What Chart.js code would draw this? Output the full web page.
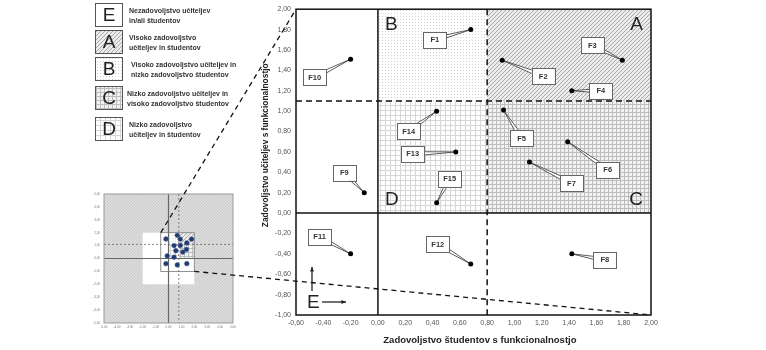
<!doctype html>
<html lang="sl">
<head>
<meta charset="utf-8">
<title>Zadovoljstvo učiteljev in študentov s funkcionalnostjo</title>
<style>
  body { margin: 0; background: #fff; }
  .wrap { position: relative; width: 766px; height: 350px; }
  .wrap canvas { position: absolute; left: 0; top: 0; }
</style>
</head>
<body>
<div class="wrap">
  <canvas id="overview" width="766" height="350"></canvas>
  <canvas id="detail" width="766" height="350"></canvas>
</div>

<script src="https://cdn.jsdelivr.net/npm/chart.js"></script>
<script>
// funkcionalnosti in povprecno zadovoljstvo
const factors = ['F1', 'F2', 'F3', 'F4', 'F5', 'F6', 'F7', 'F8', 'F9', 'F10', 'F11', 'F12', 'F13', 'F14', 'F15'];
const studentSat = [0.68, 0.91, 1.79, 1.42, 0.92, 1.39, 1.11, 1.42, -0.10, -0.20, -0.20, 0.68, 0.57, 0.43, 0.43];
const teacherSat = [1.80, 1.50, 1.50, 1.20, 1.01, 0.70, 0.50, -0.40, 0.20, 1.51, -0.40, -0.50, 0.60, 1.00, 0.10];

// meje obmocij
const studentCut = 0.8;
const teacherCut = 1.1;

// obseg osi
const detailX = [-0.6, 2.0];
const detailY = [-1.0, 2.0];
const detailStep = 0.2;
const overviewRange = [-5, 5];
const overviewWhite = [-2, 2];

const xTitle = 'Zadovoljstvo študentov s funkcionalnostjo';
const yTitle = 'Zadovoljstvo učiteljev s funkcionalnostjo';

const zoneLetters = ['E', 'A', 'B', 'C', 'D'];
const zoneTexts = [
  ['Nezadovoljstvo učiteljev', 'in/ali študentov'],
  ['Visoko zadovoljstvo', 'učiteljev in študentov'],
  ['Visoko zadovoljstvo učiteljev in', 'nizko zadovoljstvo študentov'],
  ['Nizko zadovoljstvo učiteljev in', 'visoko zadovoljstvo študentov'],
  ['Nizko zadovoljstvo', 'učiteljev in študentov']
];

// kje stojijo oznake Fx glede na tocko (px)
const calloutOffsets = [
  [-36, 10], [41, 16], [-30, -15], [29, 0], [18, 28], [40, 28], [42, 21], [33, 6],
  [-20, -20], [-36, 18], [-31, -17], [-33, -20], [-43, 2], [-28, 20], [13, -24]
];

const FONT = "'Liberation Sans', Arial, sans-serif";
const fmt = v => (Math.abs(v) < 1e-9 ? 0 : v).toFixed(2).replace('.', ',');

function makePattern(ctx, size, bg, draw) {
  const c = document.createElement('canvas');
  c.width = c.height = size;
  const g = c.getContext('2d');
  g.fillStyle = bg;
  g.fillRect(0, 0, size, size);
  draw(g, size);
  return ctx.createPattern(c, 'repeat');
}

function zonePatterns(ctx) {
  return {
    A: makePattern(ctx, 4, '#ececec', (g, s) => { g.fillStyle = '#a9a9a9'; for (let i = 0; i < s; i++) g.fillRect(i, s - 1 - i, 1, 1); }),
    B: makePattern(ctx, 3, '#ffffff', g => { g.fillStyle = '#d2d2d2'; g.fillRect(1, 1, 1, 1); }),
    C: makePattern(ctx, 4, '#f1f1f1', (g, s) => { g.fillStyle = '#bdbdbd'; g.fillRect(0, 0, s, 1); g.fillRect(0, 0, 1, s); }),
    D: makePattern(ctx, 5, '#ffffff', (g, s) => { g.fillStyle = '#d6d6d6'; g.fillRect(0, 0, s, 1); g.fillRect(0, 0, 1, s); }),
    grey: makePattern(ctx, 3, '#dcdcdc', (g, s) => { g.fillStyle = '#cbcbcb'; for (let i = 0; i < s; i++) g.fillRect(i, s - 1 - i, 1, 1); })
  };
}

// obmocja A-D v koordinatah osi
function zoneRects() {
  return {
    A: [studentCut, detailX[1], teacherCut, detailY[1]],
    B: [0, studentCut, teacherCut, detailY[1]],
    C: [studentCut, detailX[1], 0, teacherCut],
    D: [0, studentCut, 0, teacherCut]
  };
}

function fillZones(ctx, xs, ys, pats) {
  const rects = zoneRects();
  Object.keys(rects).forEach(k => {
    const [x0, x1, y0, y1] = rects[k];
    const l = xs.getPixelForValue(x0), r = xs.getPixelForValue(x1);
    const t = ys.getPixelForValue(y1), b = ys.getPixelForValue(y0);
    ctx.fillStyle = pats[k];
    ctx.fillRect(l, t, r - l, b - t);
  });
}

function vline(ctx, x, top, bottom) { ctx.beginPath(); ctx.moveTo(x, top); ctx.lineTo(x, bottom); ctx.stroke(); }
function hline(ctx, y, left, right) { ctx.beginPath(); ctx.moveTo(left, y); ctx.lineTo(right, y); ctx.stroke(); }

// ---------- pregledni graf (celoten obseg) ----------
const overviewPlugin = {
  id: 'overviewBackground',
  beforeDatasetsDraw(chart) {
    const { ctx, chartArea: a, scales: { x, y } } = chart;
    const pats = zonePatterns(ctx);
    ctx.save();
    ctx.fillStyle = pats.grey;
    ctx.fillRect(a.left, a.top, a.width, a.height);
    const wl = x.getPixelForValue(overviewWhite[0]), wr = x.getPixelForValue(overviewWhite[1]);
    const wt = y.getPixelForValue(overviewWhite[1]), wb = y.getPixelForValue(overviewWhite[0]);
    ctx.fillStyle = '#fff';
    ctx.fillRect(wl, wt, wr - wl, wb - wt);
    const dl = x.getPixelForValue(detailX[0]), dr = x.getPixelForValue(detailX[1]);
    const dt = y.getPixelForValue(detailY[1]), db = y.getPixelForValue(detailY[0]);
    ctx.fillRect(dl, dt, dr - dl, db - dt);
    fillZones(ctx, x, y, pats);

    ctx.strokeStyle = '#666';
    ctx.lineWidth = 1.2;
    vline(ctx, x.getPixelForValue(0), a.top, a.bottom);
    hline(ctx, y.getPixelForValue(0), a.left, a.right);
    ctx.setLineDash([2, 2]);
    ctx.lineWidth = 0.8;
    vline(ctx, x.getPixelForValue(studentCut), a.top, a.bottom);
    hline(ctx, y.getPixelForValue(teacherCut), a.left, a.right);
    ctx.setLineDash([]);

    ctx.strokeStyle = '#777';
    ctx.strokeRect(dl, dt, dr - dl, db - dt);
    ctx.strokeStyle = '#9a9a9a';
    ctx.lineWidth = 1;
    ctx.strokeRect(a.left, a.top, a.width, a.height);
    ctx.restore();
  }
};

const overviewChart = new Chart(document.getElementById('overview'), {
  type: 'scatter',
  data: {
    datasets: [{
      data: studentSat.map((v, i) => ({ x: v, y: teacherSat[i] })),
      backgroundColor: '#1f3a70',
      borderColor: '#5a6f96',
      borderWidth: 0.5,
      pointRadius: 2.4
    }]
  },
  options: {
    responsive: false,
    animation: false,
    layout: { padding: { left: 89, right: 533, top: 194, bottom: 19 } },
    plugins: { legend: { display: false }, tooltip: { enabled: false } },
    scales: {
      x: {
        type: 'linear', min: overviewRange[0], max: overviewRange[1],
        ticks: { stepSize: 1, callback: fmt, font: { family: FONT, size: 3 }, color: '#777', padding: 2, maxRotation: 0, autoSkip: false },
        grid: { display: false, drawTicks: false },
        border: { display: false },
        afterFit: s => { s.height = 8; }
      },
      y: {
        type: 'linear', min: overviewRange[0], max: overviewRange[1],
        ticks: { stepSize: 1, callback: fmt, font: { family: FONT, size: 3 }, color: '#777', padding: 4, autoSkip: false },
        grid: { display: false, drawTicks: false },
        border: { display: false },
        afterFit: s => { s.width = 15; }
      }
    }
  },
  plugins: [overviewPlugin]
});

// ---------- povecan graf ----------
function drawCallout(ctx, px, py, dx, dy, text) {
  const cx = px + dx, cy = py + dy;
  const len = Math.hypot(dx, dy) || 1;
  const nx = -dy / len * 2.2, ny = dx / len * 2.2;
  ctx.beginPath();
  ctx.moveTo(px, py);
  ctx.lineTo(cx + nx, cy + ny);
  ctx.lineTo(cx - nx, cy - ny);
  ctx.closePath();
  ctx.fillStyle = '#fff';
  ctx.fill();
  ctx.strokeStyle = '#333';
  ctx.lineWidth = 0.8;
  ctx.stroke();

  const w = 23, h = 16;
  ctx.fillStyle = '#fff';
  ctx.fillRect(cx - w / 2, cy - h / 2, w, h);
  ctx.strokeStyle = '#666';
  ctx.lineWidth = 1;
  ctx.strokeRect(Math.round(cx - w / 2) + 0.5, Math.round(cy - h / 2) + 0.5, w, h);
  ctx.fillStyle = '#333';
  ctx.font = 'bold 7.5px ' + FONT;
  ctx.textAlign = 'center';
  ctx.textBaseline = 'middle';
  ctx.fillText(text, cx, cy + 0.5);
}

function drawArrow(ctx, x0, y0, x1, y1) {
  ctx.beginPath();
  ctx.moveTo(x0, y0);
  ctx.lineTo(x1, y1);
  ctx.stroke();
  const ang = Math.atan2(y1 - y0, x1 - x0);
  ctx.beginPath();
  ctx.moveTo(x1, y1);
  ctx.lineTo(x1 - 5 * Math.cos(ang - 0.4), y1 - 5 * Math.sin(ang - 0.4));
  ctx.lineTo(x1 - 5 * Math.cos(ang + 0.4), y1 - 5 * Math.sin(ang + 0.4));
  ctx.closePath();
  ctx.fill();
}

function drawLegend(ctx, pats) {
  const tops = [3, 30, 57, 86, 117];
  const textX = [129, 129, 131, 127, 129];
  const fills = ['#fff', pats.A, pats.B, pats.C, pats.D];
  ctx.save();
  tops.forEach((t, i) => {
    ctx.fillStyle = fills[i];
    ctx.fillRect(95, t, 27, 23);
    ctx.strokeStyle = '#555';
    ctx.lineWidth = 1;
    ctx.strokeRect(95.5, t + 0.5, 27, 23);
    ctx.fillStyle = '#222';
    ctx.font = '19px ' + FONT;
    ctx.textAlign = 'center';
    ctx.textBaseline = 'middle';
    ctx.fillText(zoneLetters[i], 109, t + 13);
    ctx.font = 'bold 7px ' + FONT;
    ctx.textAlign = 'left';
    ctx.fillStyle = '#333';
    zoneTexts[i].forEach((line, j) => ctx.fillText(line, textX[i], t + 8 + j * 10));
  });
  ctx.restore();
}

const detailPlugin = {
  id: 'detailDecor',
  beforeDatasetsDraw(chart) {
    const { ctx, chartArea: a, scales: { x, y } } = chart;
    const pats = zonePatterns(ctx);
    ctx.save();
    fillZones(ctx, x, y, pats);

    const x0 = x.getPixelForValue(0), y0 = y.getPixelForValue(0);
    const xc = x.getPixelForValue(studentCut), yc = y.getPixelForValue(teacherCut);

    // oznake obmocij
    ctx.fillStyle = '#222';
    ctx.font = '19px ' + FONT;
    ctx.textBaseline = 'top';
    ctx.textAlign = 'left';
    ctx.fillText('B', x0 + 7, a.top + 6);
    ctx.textAlign = 'right';
    ctx.fillText('A', a.right - 8, a.top + 6);
    ctx.textBaseline = 'bottom';
    ctx.fillText('C', a.right - 8, y0 - 4);
    ctx.textAlign = 'left';
    ctx.fillText('D', x0 + 7, y0 - 4);
    ctx.fillText('E', a.left + 11, a.bottom - 3);

    ctx.strokeStyle = '#111';
    ctx.lineWidth = 1.2;
    drawArrow(ctx, a.left + 16, a.bottom - 24, a.left + 16, a.bottom - 48);
    drawArrow(ctx, a.left + 26, a.bottom - 13, a.left + 50, a.bottom - 13);

    ctx.strokeStyle = '#111';
    ctx.lineWidth = 1.5;
    vline(ctx, x0, a.top, a.bottom);
    hline(ctx, y0, a.left, a.right);
    ctx.setLineDash([6, 4]);
    vline(ctx, xc, a.top, a.bottom);
    hline(ctx, yc, a.left, a.right);
    ctx.setLineDash([]);
    ctx.strokeRect(a.left, a.top, a.width, a.height);

    factors.forEach((f, i) => {
      const px = x.getPixelForValue(studentSat[i]);
      const py = y.getPixelForValue(teacherSat[i]);
      drawCallout(ctx, px, py, calloutOffsets[i][0], calloutOffsets[i][1], f);
    });
    ctx.restore();
  },
  afterDraw(chart) {
    const { ctx, chartArea: a } = chart;
    const ox = overviewChart.scales.x, oy = overviewChart.scales.y;
    ctx.save();
    drawLegend(ctx, zonePatterns(ctx));

    // naslova osi
    ctx.fillStyle = '#222';
    ctx.textAlign = 'center';
    ctx.textBaseline = 'middle';
    ctx.font = 'bold 9.5px ' + FONT;
    ctx.fillText(xTitle, a.left + a.width * 0.518, a.bottom + 25);
    ctx.translate(a.left - 30, a.top + a.height * 0.445);
    ctx.rotate(-Math.PI / 2);
    ctx.font = 'bold 8.4px ' + FONT;
    ctx.fillText(yTitle, 0, 0);
    ctx.setTransform(1, 0, 0, 1, 0, 0);

    // povezavi med pregledom in povecavo
    ctx.strokeStyle = '#111';
    ctx.lineWidth = 1.3;
    ctx.setLineDash([5, 4]);
    ctx.beginPath();
    ctx.moveTo(ox.getPixelForValue(detailX[0]), oy.getPixelForValue(detailY[1]));
    ctx.lineTo(a.left, a.top);
    ctx.moveTo(ox.getPixelForValue(detailX[1]), oy.getPixelForValue(detailY[0]));
    ctx.lineTo(a.right, a.bottom);
    ctx.stroke();
    ctx.restore();
  }
};

new Chart(document.getElementById('detail'), {
  type: 'scatter',
  data: {
    datasets: [{
      label: 'Funkcionalnosti',
      data: studentSat.map((v, i) => ({ x: v, y: teacherSat[i] })),
      backgroundColor: '#000',
      borderWidth: 0,
      pointRadius: 2.5
    }]
  },
  options: {
    responsive: false,
    animation: false,
    layout: { padding: { left: 252, right: 115, top: 4, bottom: 0 } },
    plugins: { legend: { display: false }, tooltip: { enabled: false } },
    scales: {
      x: {
        type: 'linear', min: detailX[0], max: detailX[1],
        ticks: { stepSize: detailStep, callback: fmt, font: { family: FONT, size: 7 }, color: '#555', padding: 4, maxRotation: 0, autoSkip: false },
        grid: { display: false, drawTicks: false },
        border: { display: false },
        afterFit: s => { s.height = 35; }
      },
      y: {
        type: 'linear', min: detailY[0], max: detailY[1],
        ticks: { stepSize: detailStep, callback: fmt, font: { family: FONT, size: 7 }, color: '#555', padding: 5, autoSkip: false },
        grid: { display: false, drawTicks: false },
        border: { display: false },
        afterFit: s => { s.width = 44; }
      }
    }
  },
  plugins: [detailPlugin]
});
</script>
</body>
</html>
